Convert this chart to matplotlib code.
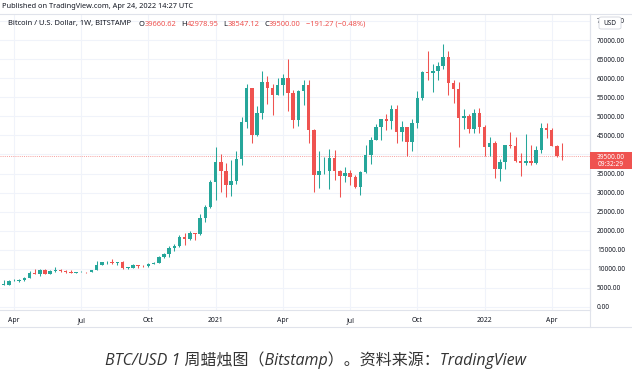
import matplotlib.pyplot as plt
from matplotlib.patches import Rectangle, FancyBboxPatch
from matplotlib.lines import Line2D
import pandas as pd

# weekly BTC/USD candles (Bitstamp), first week 2020-03-16
first_open = 5360
closes = [5830, 5880, 6780, 6900, 7120, 7700, 8900, 8720, 9680, 8720,
          9450, 9750, 9340, 9300, 9010, 9070, 9250, 9170, 9700, 11050,
          11680, 11770, 11650, 11700, 10250, 10320, 10920, 10730, 10660, 11370,
          11500, 13030, 13770, 15480, 15960, 18400, 17800, 19300, 19150, 23300,
          26200, 32800, 38000, 35700, 32000, 33100, 38900, 48500, 57400, 45200,
          50900, 59000, 57400, 55600, 58200, 60000, 56200, 49000, 56600, 58200,
          46400, 34600, 35600, 35700, 39000, 35600, 34300, 35200, 34000, 31500,
          35400, 39800, 43800, 47200, 49300, 48800, 51800, 45900, 47200, 43200,
          48200, 54900, 61500, 61300, 61800, 63300, 65500, 58700, 57100, 49500,
          50100, 46700, 50800, 47100, 41900, 43000, 36300, 38000, 42400, 42200,
          38300, 37700, 38400, 37800, 41200, 46900, 46400, 42200, 39660.62, 39500]
highs = [6900, 6990, 7200, 7470, 7290, 7740, 9470, 10070, 9950, 9840,
         9740, 10380, 10000, 9590, 9780, 9200, 9480, 9300, 9760, 12080,
         11900, 12070, 12480, 11800, 12090, 10580, 11170, 11020, 10960, 11490,
         11730, 13350, 14100, 15970, 16480, 18800, 19480, 19920, 19400, 24300,
         26800, 33300, 41950, 40100, 37800, 38500, 40950, 49700, 58350, 57500,
         52600, 61800, 60500, 58400, 60000, 61200, 64900, 57000, 57000, 59500,
         59600, 46600, 40900, 39300, 41300, 41200, 36000, 36600, 35800, 34600,
         35600, 42500, 44700, 48100, 49400, 50500, 52900, 52900, 48800, 47300,
         49200, 56600, 62000, 67000, 63700, 64200, 69000, 67000, 59400, 59100,
         51900, 50500, 51900, 52100, 47600, 44500, 43500, 38900, 42600, 45800,
         44700, 40300, 45300, 42500, 42300, 48200, 48200, 47000, 42400, 42978.95]
lows = [4440, 5690, 5860, 6770, 6460, 6750, 7640, 8530, 8200, 8700,
        8630, 9290, 9240, 8910, 8830, 8920, 9050, 9030, 9150, 9700,
        10950, 11150, 11380, 11100, 9880, 9880, 10200, 10140, 10390, 10540,
        11200, 11420, 12900, 13200, 14800, 15800, 16200, 17600, 17600, 19000,
        22200, 26000, 28100, 30100, 28800, 29200, 32300, 37300, 47000, 43000,
        44900, 49300, 53300, 50400, 55600, 55500, 51500, 47000, 47500, 53000,
        43000, 30100, 31200, 34800, 31000, 33300, 28800, 32700, 32100, 31100,
        29300, 35200, 37500, 43800, 43900, 46300, 46700, 43000, 43400, 39600,
        40800, 47000, 54200, 59600, 56500, 59400, 62300, 55600, 53500, 42000,
        46700, 45500, 45500, 45700, 39600, 39700, 33800, 33000, 36300, 41700,
        38000, 34300, 37200, 37200, 37600, 40500, 44200, 42100, 39200, 38547.12]
opens = [first_open] + closes[:-1]
weeks = pd.date_range('2020-03-16', periods=len(closes), freq='7D')
last_price = 39500
y_ticks = list(range(0, 75001, 5000))

green = '#26a69a'
red = '#ef5350'
grid_c = '#f0f3fa'
line_c = '#e0e3eb'
text_c = '#131722'
font = 'Noto Sans'

W, H = 632, 370
fig = plt.figure(figsize=(W / 100, H / 100), dpi=100)


def fx(px):
    return px / W


def fy(py):
    return 1 - py / H


ax = fig.add_axes([0, fy(310), fx(590), (310 - 14) / H])

idx = list(range(len(closes)))
colors = [green if c >= o else red for o, c in zip(opens, closes)]
ax.vlines(idx, lows, highs, colors=colors, lw=0.75, zorder=2)
bottoms = [min(o, c) for o, c in zip(opens, closes)]
heights = [max(abs(c - o), 120) for o, c in zip(opens, closes)]
ax.bar(idx, heights, bottom=bottoms, width=0.68, color=colors, lw=0, zorder=3)

ax.set_xlim(0.29, 114.4)
ax.set_ylim(-787, 76820)

# x ticks sit on the first bar of each quarter
tick_idx = [i for i in range(1, len(weeks))
            if weeks[i].month in (1, 4, 7, 10) and weeks[i].month != weeks[i - 1].month]
tick_lbl = [str(weeks[i].year) if weeks[i].month == 1 else weeks[i].strftime('%b')
            for i in tick_idx]
ax.set_xticks(tick_idx)
ax.set_xticklabels(tick_lbl)
for lbl in ax.get_xticklabels():
    if lbl.get_text().isdigit():
        lbl.set_fontweight('bold')

ax.yaxis.tick_right()
ax.set_yticks(y_ticks)
ax.set_yticklabels([f"{v:.2f}" for v in y_ticks])
ax.tick_params(axis='y', length=0, pad=5, labelsize=4.7, labelcolor=text_c)
ax.tick_params(axis='x', length=0, pad=5, labelsize=4.9, labelcolor=text_c)
for lbl in ax.get_xticklabels() + ax.get_yticklabels():
    lbl.set_family(font)

ax.grid(True, color=grid_c, lw=0.8, zorder=0)
ax.set_axisbelow(True)
for s in ['top', 'left']:
    ax.spines[s].set_visible(False)
for s in ['right', 'bottom']:
    ax.spines[s].set_color(line_c)
    ax.spines[s].set_linewidth(0.8)

ax.axhline(last_price, color=red, lw=0.7, ls=(0, (1, 1.2)), alpha=0.55, zorder=1)

# frame lines around the chart
fig.add_artist(Line2D([0, 1], [fy(14), fy(14)], color=line_c, lw=0.8))
fig.add_artist(Line2D([0, 1], [fy(327), fy(327)], color=line_c, lw=0.8))
fig.add_artist(Line2D([fx(590), fx(590)], [fy(14), fy(327)], color=line_c, lw=0.8))

# last price tag (covers the 40000 label, as in TradingView)
fig.add_artist(Rectangle((fx(590), fy(169)), fx(42), (169 - 152) / H,
                         facecolor=red, edgecolor='none', zorder=5))
fig.text(fx(611), fy(157.5), f"{last_price:.2f}", color='white', fontsize=4.7,
         ha='center', va='center', family=font, zorder=6)
fig.text(fx(611), fy(164.5), "09:32:29", color='white', fontsize=4.7,
         ha='center', va='center', family=font, zorder=6)

# USD badge
fig.add_artist(FancyBboxPatch((fx(599), fy(29)), fx(22), (29 - 17) / H,
                              boxstyle='round,pad=0,rounding_size=0.004',
                              facecolor='white', edgecolor='#d1d4dc', lw=0.6, zorder=5))
fig.text(fx(610), fy(23.5), "USD", color=text_c, fontsize=4.7, ha='center', va='center',
         family=font, zorder=6)

# header texts
fig.text(fx(2), fy(6), "Published on TradingView.com, Apr 24, 2022 14:27 UTC",
         fontsize=5.3, color=text_c, va='center', family=font)

pieces = [("O", text_c, 5.5), ("39660.62", red, 0),
          ("H", text_c, 3.5), ("42978.95", red, 0),
          ("L", text_c, 3.5), ("38547.12", red, 0),
          ("C", text_c, 3.5), ("39500.00", red, 0),
          ("\u2212191.27 (\u22120.48%)", red, 3.5)]
last = fig.text(fx(8), fy(24), "Bitcoin / U.S. Dollar, 1W, BITSTAMP", fontsize=5.4,
                color=text_c, va='center', family=font)
for txt, col, gap in pieces:
    last = fig.add_artist(plt.Annotation(txt, xy=(1, 0.5), xycoords=last,
                                         xytext=(gap, 0), textcoords='offset points',
                                         fontsize=5.4, color=col, va='center', ha='left',
                                         family=font))

# caption
fig.text(0.5, fy(360), "BTC/USD 1 周蜡烛图（Bitstamp）。资料来源：TradingView",
         ha='center', va='center', fontsize=11.5, color='#333333', style='italic',
         family=['Open Sans', 'Noto Sans CJK SC'])

fig.savefig('out.png', dpi=100)
